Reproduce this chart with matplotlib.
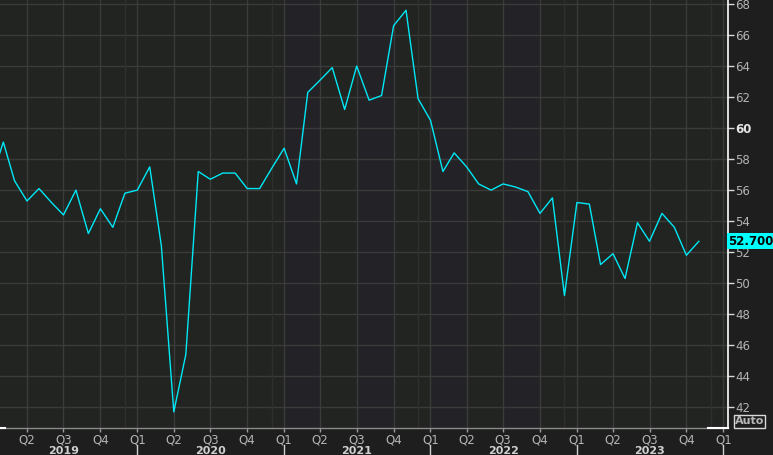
import numpy as np
import pandas as pd
import matplotlib
matplotlib.use("Agg")
import matplotlib.pyplot as plt
import matplotlib.dates as mdates
import matplotlib.transforms as mtransforms

# monthly index values, Jan 2019 .. Nov 2023
first_month = "2019-01-01"
values = [
    56.6, 59.1, 56.6, 55.3, 56.1, 55.2, 54.4, 56.0, 53.2, 54.8, 53.6, 55.8,   # 2019
    56.0, 57.5, 52.4, 41.7, 45.4, 57.2, 56.7, 57.1, 57.1, 56.1, 56.1, 57.4,   # 2020
    58.7, 56.4, 62.3, 63.1, 63.9, 61.2, 64.0, 61.8, 62.1, 66.6, 67.6, 61.9,   # 2021
    60.5, 57.2, 58.4, 57.5, 56.4, 56.0, 56.4, 56.2, 55.9, 54.5, 55.5, 49.2,   # 2022
    55.2, 55.1, 51.2, 51.9, 50.3, 53.9, 52.7, 54.5, 53.6, 51.8, 52.7,         # 2023
]
last_value = 52.7
y_ticks = list(range(42, 70, 2))
years = [2019, 2020, 2021, 2022, 2023]
quarter_names = ["Q1", "Q2", "Q3", "Q4"]
shaded_quarters = ["2021-01-01", "2021-07-01", "2022-01-01", "2022-07-01"]

months = pd.date_range(first_month, periods=len(values), freq="MS")

W, H = 773, 455
fig = plt.figure(figsize=(W / 100, H / 100), dpi=100, facecolor="#1e1e1e")
ax = fig.add_axes([0, 27 / H, 728 / W, 428 / H])
ax.set_facecolor("#212420")

# faint alternating quarter bands seen in the middle of the chart
for q in shaded_quarters:
    start = pd.Timestamp(q)
    ax.axvspan(start, start + pd.DateOffset(months=3), color="#232226", lw=0, zorder=0)

ax.plot(months, values, color="#00e8f6", lw=1.0, zorder=3)

ax.set_xlim(pd.Timestamp("2019-01-23 17:00"), pd.Timestamp("2024-01-12 17:00"))
ax.set_ylim(40.66, 68.26)

# grid
grid_c = "#3a3b3a"
for v in y_ticks:
    ax.axhline(v, color=grid_c, lw=1.0, zorder=1)
quarters = pd.date_range("2019-04-01", "2024-01-01", freq="QS")
for q in quarters:
    ax.axvline(q, color=grid_c, lw=1.0, zorder=1)
for y in years:
    ax.axvline(pd.Timestamp(f"{y}-12-01"), color="#2e302d", lw=1.0, zorder=1)

# right axis
ax.yaxis.tick_right()
ax.set_yticks(y_ticks, [str(v) for v in y_ticks])
ax.tick_params(axis="y", direction="out", length=4, width=1, color="#d8d8d8",
               labelcolor="#b4b4b4", labelsize=8.5, pad=1)
for lab in ax.get_yticklabels():
    if lab.get_text() == "60":
        lab.set_fontweight("bold")
        lab.set_color("#e6e6e6")

# bottom axis
ax.set_xticks(quarters, [quarter_names[q.quarter - 1] for q in quarters])
ax.tick_params(axis="x", direction="out", length=3, width=1, color="#9a9a9a",
               labelcolor="#b4b4b4", labelsize=8.5, pad=1)

for s in ["top", "left"]:
    ax.spines[s].set_visible(False)
ax.spines["right"].set_color("white")
ax.spines["right"].set_linewidth(1.2)
ax.spines["bottom"].set_color("#8a8a8a")
ax.spines["bottom"].set_linewidth(1.0)
ax.plot([0, 5 / 728], [0, 0], color="white", lw=1.5, transform=ax.transAxes, clip_on=False, zorder=5)
ax.plot([708 / 728, 1], [0, 0], color="white", lw=1.5, transform=ax.transAxes, clip_on=False, zorder=5)

# year labels and separators under the quarter labels
trans = mtransforms.blended_transform_factory(ax.transData, ax.transAxes)
for y in years:
    ax.text(pd.Timestamp(f"{y}-07-01"), -22.5 / 428, str(y), transform=trans,
            ha="center", va="center", fontsize=8, fontweight="bold", color="#d0d0d0")
for y in years + [2024]:
    x = mdates.date2num(pd.Timestamp(f"{y}-01-01"))
    ax.plot([x, x], [-17 / 428, -27 / 428], transform=trans, color="#d0d0d0",
            lw=1.0, clip_on=False)

# last value tag
ax.text(1.0, last_value, f"{last_value:.3f}",
        transform=mtransforms.blended_transform_factory(ax.transAxes, ax.transData),
        ha="left", va="center", fontsize=8.5, fontweight="bold", color="black",
        bbox=dict(boxstyle="square,pad=0.12", fc="#00ffff", ec="none"), zorder=6, clip_on=False)

# "Auto" box
fig.text(749.5 / W, 1 - 421.5 / H, "Auto", ha="center", va="center", fontsize=8,
         fontweight="bold", color="#b8b8b8",
         bbox=dict(boxstyle="square,pad=0.1", fc="#1e1e1e", ec="#d8d8d8", lw=1))

fig.savefig("out.png", dpi=100, facecolor=fig.get_facecolor())
